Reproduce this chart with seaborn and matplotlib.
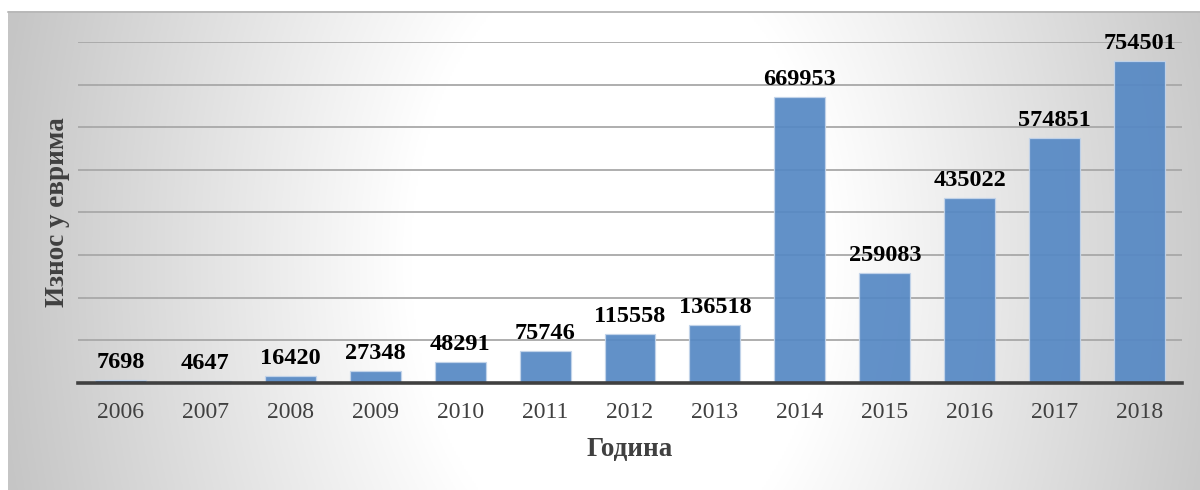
import numpy as np
import matplotlib
matplotlib.use("Agg")
import matplotlib.pyplot as plt
from matplotlib.lines import Line2D
import seaborn as sns

years = ["2006", "2007", "2008", "2009", "2010", "2011", "2012",
         "2013", "2014", "2015", "2016", "2017", "2018"]
amounts = [7698, 4647, 16420, 27348, 48291, 75746, 115558,
           136518, 669953, 259083, 435022, 574851, 754501]

sns.set_theme(style="white")
plt.rcParams["font.family"] = ["Liberation Serif", "DejaVu Serif"]

W, H = 1200, 490
fig = plt.figure(figsize=(W / 100, H / 100), dpi=100)
fig.patch.set_facecolor("white")

# Chart-area background: soft grey-to-white gradient
bx0, by0, bx1, by1 = 8, 0, 1200, 478
bg = fig.add_axes([bx0 / W, by0 / H, (bx1 - bx0) / W, (by1 - by0) / H])
gx = np.linspace(bx0, bx1, 600)
gy = np.linspace(H - by1, H - by0, 240)
X, Y = np.meshgrid(gx, gy)
d = np.sqrt(((X - 620) / 600.0) ** 2 + ((Y - 260) / 900.0) ** 2)
t = np.clip((d - 0.35) / 0.7, 0, 1)
shade = (255 - 58 * t) / 255.0
img = np.dstack([shade, shade, shade])
bg.imshow(img, aspect="auto", extent=[0, 1, 0, 1], origin="upper")
bg.set_xlim(0, 1)
bg.set_ylim(0, 1)
bg.axis("off")
bg.add_line(Line2D([0, 1], [1, 1], transform=bg.transAxes, color="#b8b8b8",
                   linewidth=1.4, clip_on=False))

# Main plotting area
ax = fig.add_axes([78 / W, (H - 383) / H, (1182 - 78) / W, (383 - 42) / H])
ax.set_facecolor("none")

sns.barplot(x=years, y=amounts, color="#5588c4", saturation=1, width=0.6,
            alpha=0.92, edgecolor="#c3d4ea", linewidth=0.9, ax=ax)

ax.set_ylim(0, 800000)
ax.set_xlim(-0.5, len(years) - 0.5)
ax.set_yticks(np.arange(0, 800001, 100000))
ax.set_yticklabels([])
ax.tick_params(axis="y", length=0)
ax.set_axisbelow(True)
ax.yaxis.grid(True, color="#a8a8a8", linewidth=1.3)
ax.xaxis.grid(False)

for side in ["top", "right", "left"]:
    ax.spines[side].set_visible(False)
ax.spines["bottom"].set_color("#404040")
ax.spines["bottom"].set_linewidth(2.6)
ax.spines["bottom"].set_zorder(5)

ax.tick_params(axis="x", length=0, pad=14, labelsize=17, labelcolor="#404040")

ax.bar_label(ax.containers[0], labels=[str(v) for v in amounts], padding=5,
             fontsize=17.5, fontweight="bold", color="black")

ax.set_xlabel("Година", fontsize=19.5, fontweight="bold", color="#404040",
              labelpad=10)
ax.set_ylabel("Износ у еврима", fontsize=19.5, fontweight="bold",
              color="#404040", labelpad=2)

fig.savefig("out.png", dpi=100)
